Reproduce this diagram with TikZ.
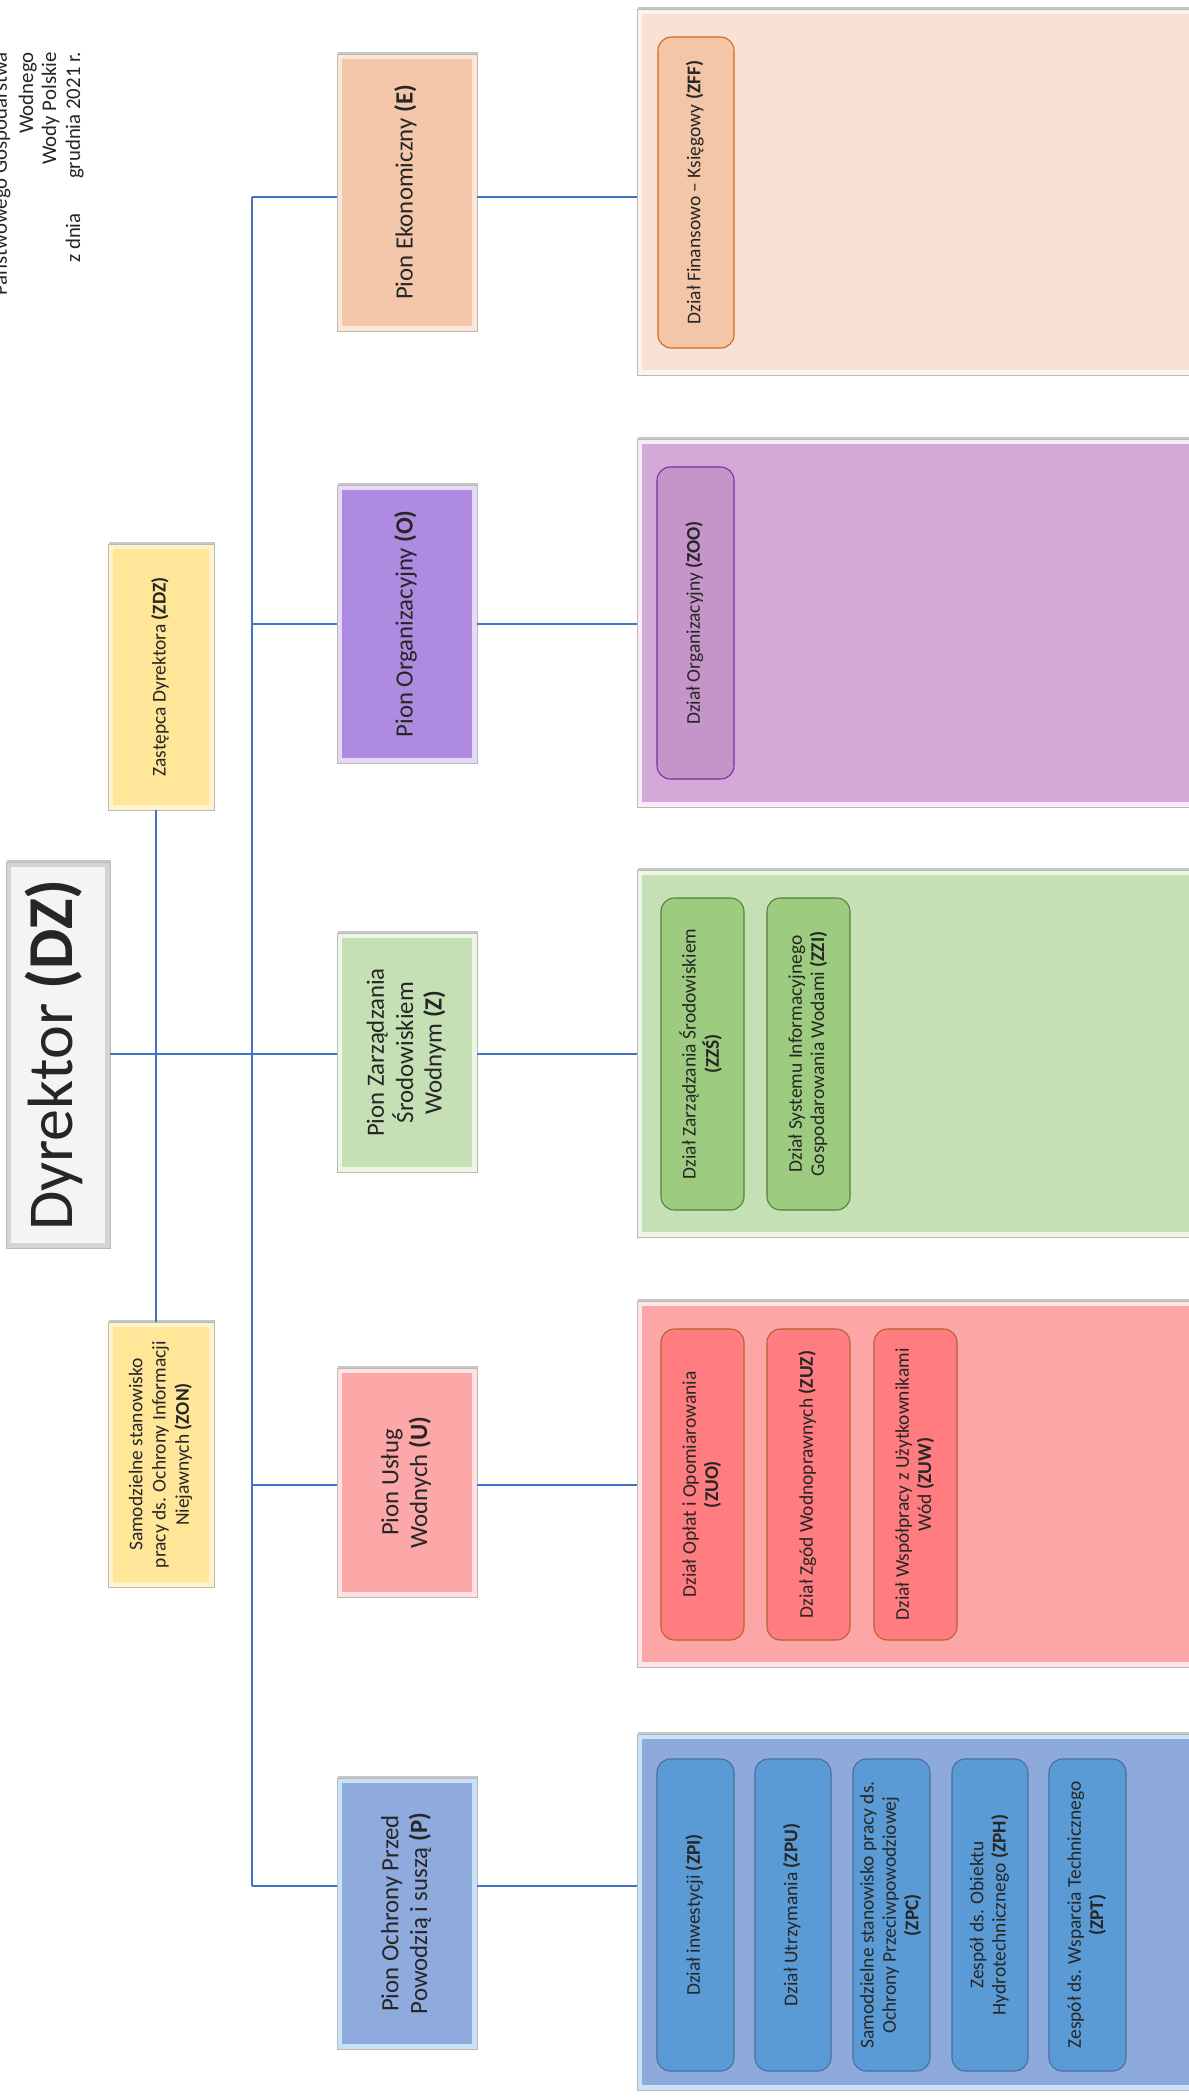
\documentclass[tikz,border=0pt]{standalone}
\usepackage{fontspec}
\setmainfont{Carlito}
\usetikzlibrary{shadows}
\definecolor{conn}{HTML}{4472C4}
\definecolor{txt}{HTML}{262626}
\definecolor{dzfill}{HTML}{F4F4F4}
\definecolor{dzband}{HTML}{D4D4D4}
\definecolor{yfill}{HTML}{FFE699}
\definecolor{yband}{HTML}{FFF3CC}
% pion fills
\definecolor{peF}{HTML}{F4C7AA}\definecolor{peB}{HTML}{FBE6D8}
\definecolor{poF}{HTML}{AE8BE0}\definecolor{poB}{HTML}{E6DAF7}
\definecolor{pzF}{HTML}{C5E0B4}\definecolor{pzB}{HTML}{EDF6E7}
\definecolor{puF}{HTML}{FCA7A8}\definecolor{puB}{HTML}{FEE2E2}
\definecolor{ppF}{HTML}{8FAADC}\definecolor{ppB}{HTML}{C9E2F7}
% containers
\definecolor{ceF}{HTML}{F8E1D5}\definecolor{ceB}{HTML}{FDF2EC}
\definecolor{coF}{HTML}{D3AAD7}\definecolor{coB}{HTML}{FBEAFB}
\definecolor{czF}{HTML}{C5E0B4}\definecolor{czB}{HTML}{EEF6E8}
\definecolor{cuF}{HTML}{FCA6A7}\definecolor{cuB}{HTML}{FEE5E5}
\definecolor{cpF}{HTML}{8EA9DB}\definecolor{cpB}{HTML}{C9E2F7}
% units
\definecolor{ueF}{HTML}{F4C6A8}\definecolor{ueD}{HTML}{D0691F}
\definecolor{uoF}{HTML}{C594C9}\definecolor{uoD}{HTML}{7030A0}
\definecolor{uzF}{HTML}{9DCB7F}\definecolor{uzD}{HTML}{538135}
\definecolor{uuF}{HTML}{FF7C80}\definecolor{uuD}{HTML}{B4622C}
\definecolor{upF}{HTML}{5B9BD5}\definecolor{upD}{HTML}{41719C}
\newcommand{\vtext}[1]{\rotatebox{90}{\begin{tabular}{@{}c@{}}#1\end{tabular}}}
\begin{document}
\begin{tikzpicture}[x=0.75pt,y=-0.75pt,
  box4/.style n args={4}{at={({(#1+#3)/2},{(#2+#4)/2})},
    minimum width={(#3-#1)*0.75pt}, minimum height={(#4-#2)*0.75pt}},
  conn/.style={draw=conn, line width=0.8pt},
  panel/.style 2 args={fill=#1, draw=gray!55, line width=0.6pt, inner sep=0pt, text=txt,
    path picture={\fill[#2] ([shift={(3.6pt,3.6pt)}]path picture bounding box.south west) rectangle ([shift={(-3.6pt,-3.6pt)}]path picture bounding box.north east);},
    drop shadow={shadow xshift=0.8pt, shadow yshift=1.6pt, opacity=0.22, fill=black}},
  unit/.style 2 args={rounded corners=10pt, fill=#1, draw=#2, line width=0.8pt, inner sep=0pt, text=txt,
    font=\fontsize{14.6}{16.8}\selectfont},
  pionf/.style={font=\fontsize{18.6}{21.5}\selectfont},
  smallf/.style={font=\fontsize{14.6}{17.4}\selectfont},
  hdr/.style={font=\fontsize{15.6}{18}\selectfont, text=txt, inner sep=0pt, rotate=90, anchor=base east}
]
\useasboundingbox (0,0) rectangle (1189,2100);
\clip (0,0) rectangle (1189,2100);
\fill[white] (0,0) rectangle (1189,2100);

% header
\node[hdr] (h0) at (7,52) {Państwowego Gospodarstwa};
\node[hdr] (h1) at (33,52) {Wodnego};
\node[hdr] (h2) at (56,52) {Wody Polskie};
\node[hdr] (h3) at (80,52) {grudnia 2021 r.};
\node[hdr] (h4) at (80,213) {z dnia};

% trunk coordinates
\coordinate (tE) at (252,197);
\coordinate (tO) at (252,624);
\coordinate (tZ) at (252,1054);
\coordinate (tU) at (252,1485);
\coordinate (tP) at (252,1886);

% director and staff
\node[panel={dzband}{dzfill}, box4={6}{862}{110}{1248}, font=\fontsize{48}{56}\selectfont] (dz) {\vtext{Dyrektor \textbf{(DZ)}}};
\node[panel={yband}{yfill}, box4={108}{544}{214}{810}, smallf] (zdz) {\vtext{Zastępca Dyrektora \textbf{(ZDZ)}}};
\node[panel={yband}{yfill}, box4={108}{1322}{214}{1587}, smallf] (zon) {\vtext{Samodzielne stanowisko\\pracy ds. Ochrony Informacji\\Niejawnych \textbf{(ZON)}}};

% pion boxes
\node[panel={peB}{peF}, box4={337}{54}{477}{331}, pionf] (pe) {\vtext{Pion Ekonomiczny \textbf{(E)}}};
\node[panel={poB}{poF}, box4={337}{485}{477}{763}, pionf] (po) {\vtext{Pion Organizacyjny \textbf{(O)}}};
\node[panel={pzB}{pzF}, box4={337}{933}{477}{1172}, pionf] (pz) {\vtext{Pion Zarządzania\\Środowiskiem\\Wodnym \textbf{(Z)}}};
\node[panel={puB}{puF}, box4={337}{1368}{477}{1597}, pionf] (pu) {\vtext{Pion Usług\\Wodnych \textbf{(U)}}};
\node[panel={ppB}{ppF}, box4={337}{1778}{477}{2049}, pionf] (pp) {\vtext{Pion Ochrony Przed\\Powodzią i suszą \textbf{(P)}}};

% containers
\node[panel={ceB}{ceF}, box4={637}{9}{1195}{375}] (ce) {};
\node[panel={coB}{coF}, box4={637}{439}{1195}{807}] (co) {};
\node[panel={czB}{czF}, box4={637}{870}{1195}{1237}] (cz) {};
\node[panel={cuB}{cuF}, box4={637}{1301}{1195}{1667}] (cu) {};
\node[panel={cpB}{cpF}, box4={637}{1734}{1195}{2090}] (cp) {};

% units E
\node[unit={ueF}{ueD}, box4={658}{37}{734}{348}] (zff) {\vtext{Dział Finansowo – Księgowy \textbf{(ZFF)}}};
% units O
\node[unit={uoF}{uoD}, box4={657}{467}{734}{779}] (zoo) {\vtext{Dział Organizacyjny \textbf{(ZOO)}}};
% units Z
\node[unit={uzF}{uzD}, box4={661}{898}{744}{1210}] (zzs) {\vtext{Dział Zarządzania Środowiskiem\\\textbf{(ZZŚ)}}};
\node[unit={uzF}{uzD}, box4={767}{898}{850}{1210}] (zzi) {\vtext{Dział Systemu Informacyjnego\\Gospodarowania Wodami \textbf{(ZZI)}}};
% units U
\node[unit={uuF}{uuD}, box4={661}{1329}{744}{1640}] (zuo) {\vtext{Dział Opłat i Opomiarowania\\\textbf{(ZUO)}}};
\node[unit={uuF}{uuD}, box4={767}{1329}{850}{1640}] (zuz) {\vtext{Dział Zgód Wodnoprawnych \textbf{(ZUZ)}}};
\node[unit={uuF}{uuD}, box4={874}{1329}{957}{1640}] (zuw) {\vtext{Dział Współpracy z Użytkownikami\\Wód \textbf{(ZUW)}}};
% units P
\node[unit={upF}{upD}, box4={657}{1759}{734}{2071}] (zpi) {\vtext{Dział inwestycji \textbf{(ZPI)}}};
\node[unit={upF}{upD}, box4={755}{1759}{831}{2071}] (zpu) {\vtext{Dział Utrzymania \textbf{(ZPU)}}};
\node[unit={upF}{upD}, box4={853}{1759}{930}{2071}] (zpc) {\vtext{Samodzielne stanowisko pracy ds.\\Ochrony Przeciwpowodziowej\\\textbf{(ZPC)}}};
\node[unit={upF}{upD}, box4={952}{1759}{1028}{2071}] (zph) {\vtext{Zespół ds. Obiektu\\Hydrotechnicznego \textbf{(ZPH)}}};
\node[unit={upF}{upD}, box4={1049}{1759}{1126}{2071}] (zpt) {\vtext{Zespół ds. Wsparcia Technicznego\\\textbf{(ZPT)}}};

% connectors
\draw[conn] ([xshift=-3.75pt]zdz.south) -- ([xshift=-3.75pt]zon.north);
\draw[conn] (dz.east |- tZ) -- (pz.west |- tZ);
\draw[conn] (tE) -- (tP);
\draw[conn] (tE) -- (pe.west |- tE);
\draw[conn] (tO) -- (po.west |- tO);
\draw[conn] (tU) -- (pu.west |- tU);
\draw[conn] (tP) -- (pp.west |- tP);
\draw[conn] (pe.east |- tE) -- (ce.west |- tE);
\draw[conn] (po.east |- tO) -- (co.west |- tO);
\draw[conn] (pz.east |- tZ) -- (cz.west |- tZ);
\draw[conn] (pu.east |- tU) -- (cu.west |- tU);
\draw[conn] (pp.east |- tP) -- (cp.west |- tP);
\end{tikzpicture}
\end{document}
